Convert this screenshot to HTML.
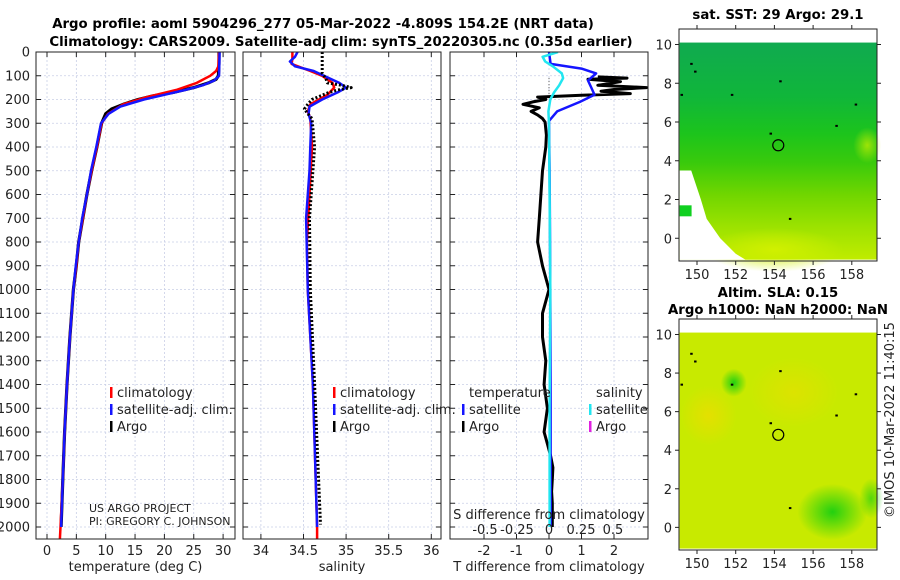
<!DOCTYPE html>
<html><head><meta charset="utf-8"><style>
body{margin:0;background:#fff;}
svg{display:block;font-family:"DejaVu Sans","Liberation Sans",sans-serif;}
.t{font-size:13px;fill:#222;}
.b{font-weight:bold;font-size:13.3px;fill:#000;}
</style></head><body>
<svg id="s" width="900" height="580" viewBox="0 0 900 580">
<defs>
<linearGradient id="sstg" x1="0" y1="0" x2="0" y2="1">
<stop offset="0" stop-color="#10aa50"/><stop offset="0.25" stop-color="#10b63a"/><stop offset="0.42" stop-color="#1cc41c"/><stop offset="0.55" stop-color="#38ca0c"/><stop offset="0.7" stop-color="#70d600"/><stop offset="0.85" stop-color="#9ce200"/><stop offset="1" stop-color="#c0ec00"/>
</linearGradient>
<radialGradient id="slab1" cx="0.5" cy="0.5" r="0.5"><stop offset="0" stop-color="#22d010"/><stop offset="1" stop-color="#22d010" stop-opacity="0"/></radialGradient>
<radialGradient id="slay" cx="0.5" cy="0.5" r="0.5"><stop offset="0" stop-color="#f0dc00"/><stop offset="1" stop-color="#f0dc00" stop-opacity="0"/></radialGradient>
<radialGradient id="ssty" cx="0.5" cy="0.5" r="0.5"><stop offset="0" stop-color="#d0f000"/><stop offset="1" stop-color="#d0f000" stop-opacity="0"/></radialGradient>
</defs>
<g id="root"></g>
</svg>
<script>
// ---------- data ----------
const depthTicks=[0,100,200,300,400,500,600,700,800,900,1000,1100,1200,1300,1400,1500,1600,1700,1800,1900,2000];
const tempTicks=[0,5,10,15,20,25,30];
const salTicks=[34,34.5,35,35.5,36];
const salTickLabels=["34","34.5","35","35.5","36"];
const tdTicks=[-2,-1,0,1,2];
const sdTicks=[-0.5,-0.25,0,0.25,0.5];
const sdTickLabels=["-0.5","-0.25","0","0.25","0.5"];
const lonTicks=[150,152,154,156,158];
const latTicks=[0,2,4,6,8,10];

const tDepthArgo=[0,50,100,115,130,150,170,185,200,220,240,260,300,400,500,600,700,800,900,1000,1200,1400,1600,1800,2000];
const tArgo=[29.3,29.3,29.2,28.8,27.5,25,21.5,18,15.5,13,11,10,9.3,8.5,7.6,6.8,6.1,5.4,5.0,4.5,3.9,3.4,3.0,2.7,2.4];
const tDepthClim=[0,60,80,100,130,160,190,220,260,300,400,500,600,700,800,900,1000,1200,1400,1600,1800,2000,2050];
const tClim=[29.3,29.2,28.8,27.8,25.5,22,17,13,10.4,9.3,8.5,7.6,6.8,6.1,5.4,5.0,4.5,3.9,3.4,3.0,2.7,2.3,2.2];
const tDepthSat=[0,100,120,140,160,180,200,230,260,300,400,500,600,700,800,900,1000,1200,1400,1600,1800,2000];
const tSat=[29.4,29.3,28.5,26.5,23.5,20,16.5,12.5,10.5,9.2,8.4,7.5,6.8,6.0,5.4,4.9,4.5,3.9,3.4,3.0,2.7,2.4];

const sDepthClim=[0,30,50,80,100,130,150,180,220,250,280,400,600,800,1000,1400,2000,2050];
const sClim=[34.37,34.37,34.36,34.58,34.72,34.84,34.86,34.78,34.58,34.55,34.58,34.6,34.57,34.54,34.55,34.61,34.66,34.66];
const sDepthSat=[0,20,40,60,80,100,130,150,170,200,230,260,300,400,500,700,1000,1400,2000];
const sSat=[34.43,34.40,34.34,34.40,34.62,34.74,34.92,35.0,34.9,34.72,34.57,34.56,34.59,34.58,34.57,34.53,34.55,34.61,34.66];
const sDepthArgo=[0,90,110,130,140,150,160,170,185,200,220,240,260,280,400,700,1000,1400,1990];
const sArgo=[34.72,34.72,34.76,34.78,34.95,35.06,34.9,34.8,34.7,34.6,34.55,34.51,34.55,34.6,34.63,34.57,34.58,34.63,34.7];

const dDepthSatT=[0,50,70,90,120,150,180,210,250,290,500,1000,1500,2000];
const dSatT=[0,0.05,1.0,1.45,1.2,1.3,1.4,0.95,0.25,0,0.02,0.04,0.05,0.05];
const dDepthArgoT=[105,110,115,125,140,150,158,165,175,182,190,200,210,220,235,250,265,280,295,350,400,500,600,700,800,900,1000,1100,1200,1300,1400,1500,1600,1650,1700,1750,1800,1850,1900,2000];
const dArgoT=[1.5,2.4,1.2,2.2,1.5,3.0,2.0,1.6,2.5,1.0,-0.35,-0.1,-0.5,-0.8,-0.3,-0.55,-0.35,-0.2,-0.12,-0.08,-0.1,-0.2,-0.25,-0.3,-0.35,-0.2,0,-0.2,-0.2,-0.1,-0.15,-0.05,-0.15,-0.05,0.05,0.12,0.1,0.08,0.1,0.1];
const dDepthSatS=[0,20,40,60,90,110,140,170,200,250,300,600,1000,1500,2000];
const dSatS=[0.07,-0.05,-0.03,0.03,0.1,0.11,0.08,0.04,0.01,-0.005,0,0.005,0.01,0.005,0.005];

const sstDotsLon=[149.7,149.9,151.8,154.3,153.8,157.2,158.2,149.2,154.8];
const sstDotsLat=[9.0,8.6,7.4,8.1,5.4,5.8,6.9,7.4,1.0];
const argoLon=[154.2];
const argoLat=[4.8];

// ---------- helpers ----------
const NS="http://www.w3.org/2000/svg";
const root=document.getElementById('root');
function mk(tag,attrs,parent){const e=document.createElementNS(NS,tag);for(const k in attrs)e.setAttribute(k,attrs[k]);(parent||root).appendChild(e);return e;}
function txt(x,y,s,cls,anchor,parent){const e=mk('text',{x:x,y:y,class:cls||'t','text-anchor':anchor||'start'},parent);e.textContent=s;return e;}
const yD=d=>52+d*0.2375;
const P1={l:36,r:235,x:v=>47+v*5.87};
const P2={l:243,r:441,x:v=>303.5+(v-34.5)*85.2};
const P3={l:450,r:648,x:v=>549+v*32.5};
const xS3=v=>549+v*128;
const TOP=52,BOT=539;

function panel(P,name,ticks,labels,title){
  const g=mk('g',{});
  
  
  mk('rect',{x:P.l,y:TOP,width:P.r-P.l,height:BOT-TOP,fill:'#fff'},g);
  depthTicks.forEach(d=>{mk('line',{x1:P.l,x2:P.r,y1:yD(d),y2:yD(d),stroke:'#c9cfe6','stroke-width':0.8,'stroke-dasharray':'2,2'},g);
    mk('line',{x1:P.l,x2:P.l+5,y1:yD(d),y2:yD(d),stroke:'#222'},g);mk('line',{x1:P.r-5,x2:P.r,y1:yD(d),y2:yD(d),stroke:'#222'},g);});
  ticks.forEach((t,i)=>{const x=P.x(t);mk('line',{x1:x,x2:x,y1:TOP,y2:BOT,stroke:'#c9cfe6','stroke-width':0.8,'stroke-dasharray':'2,2'},g);
    mk('line',{x1:x,x2:x,y1:BOT-5,y2:BOT,stroke:'#222'},g);mk('line',{x1:x,x2:x,y1:TOP,y2:TOP+5,stroke:'#222'},g);
    const l=txt(x,555,labels[i],'t','middle',g);});
  const tt=txt((P.l+P.r)/2,571,title,'t','middle',g);
  
  
  return g;
}
function frame(P,g){mk('rect',{x:P.l,y:TOP,width:P.r-P.l,height:BOT-TOP,fill:'none',stroke:'#222','stroke-width':1},g);}
function line(g,xf,vals,depths,color,w,name,dash){
  const pts=vals.map((v,i)=>xf(v).toFixed(1)+','+yD(depths[i]).toFixed(1)).join(' ');
  const e=mk('polyline',{points:pts,fill:'none',stroke:color,'stroke-width':w,'stroke-linejoin':'round'},g);
  if(dash)e.setAttribute('stroke-dasharray',dash);
  
  
}
function clip(P,id){const c=mk('clipPath',{id:id});mk('rect',{x:P.l,y:TOP,width:P.r-P.l,height:BOT-TOP},c);}
clip(P1,'c1');clip(P2,'c2');clip(P3,'c3');

// titles
const t1=txt(323,28,'Argo profile: aoml 5904296_277 05-Mar-2022 -4.809S 154.2E (NRT data)','b','middle');


const t2=txt(341,46,'Climatology: CARS2009. Satellite-adj clim: synTS_20220305.nc (0.35d earlier)','b','middle');



// depth labels
depthTicks.forEach(d=>{const l=txt(30,yD(d)+4.5,String(d),'t','end');});

// panel 1
const g1=panel(P1,'temperature-panel',tempTicks,tempTicks.map(String),'temperature (deg C)');
const l1=mk('g',{'clip-path':'url(#c1)'},g1);
line(l1,P1.x,tArgo,tDepthArgo,'#000',3.2,'argo-temperature-line');
line(l1,P1.x,tClim,tDepthClim,'#f00',2.5,'climatology-temperature-line');
line(l1,P1.x,tSat,tDepthSat,'#1515ff',2.5,'satellite-temperature-line');
frame(P1,g1);
// panel 2
const g2=panel(P2,'salinity-panel',salTicks,salTickLabels,'salinity');
const l2=mk('g',{'clip-path':'url(#c2)'},g2);
line(l2,P2.x,sClim,sDepthClim,'#f00',2.5,'climatology-salinity-line');
line(l2,P2.x,sSat,sDepthSat,'#1515ff',2.5,'satellite-salinity-line');
line(l2,P2.x,sArgo,sDepthArgo,'#000',3,'argo-salinity-line','2,2');
frame(P2,g2);
// panel 3
const g3=panel(P3,'difference-panel',tdTicks,tdTicks.map(String),'T difference from climatology');
const l3=mk('g',{'clip-path':'url(#c3)'},g3);
mk('line',{x1:549,x2:549,y1:yD(110),y2:yD(200),stroke:'#555','stroke-width':1,'stroke-dasharray':'1,2'},l3);
line(l3,P3.x,dArgoT,dDepthArgoT,'#000',3,'argo-t-difference-line');
line(l3,P3.x,dSatT,dDepthSatT,'#1515ff',2.5,'satellite-t-difference-line');
line(l3,xS3,dSatS,dDepthSatS,'#22e6f0',2.5,'satellite-s-difference-line');
frame(P3,g3);
// S-diff axis labels
const sdt=txt(549,519,'S difference from climatology','t','middle',g3);


sdTicks.forEach((v,i)=>{const l=txt(xS3(v),534,sdTickLabels[i],'t','middle',g3);});

// legends
function legend(x,y,color,label,name){const g=mk('g',{});
  if(color)mk('rect',{x:x,y:y-10,width:2.5,height:11,fill:color},g);txt(x+7,y,label,'t','start',g);}
legend(110,397,'#f00','climatology','legend-climatology');
legend(110,414,'#1515ff','satellite-adj. clim.','legend-satellite-adj');
legend(110,431,'#000','Argo','legend-argo');
legend(333,397,'#f00','climatology','legend-climatology-sal');
legend(333,414,'#1515ff','satellite-adj. clim.','legend-satellite-adj-sal');
legend(333,431,'#000','Argo','legend-argo-sal');
legend(462,397,null,'temperature','legend-temperature-header');
legend(462,414,'#1515ff','satellite','legend-t-satellite');
legend(462,431,'#000','Argo','legend-t-argo');
legend(589,397,null,'salinity','legend-salinity-header');
legend(589,414,'#22e6f0','satellite','legend-s-satellite');
legend(589,431,'#e020e0','Argo','legend-s-argo');
const c1=txt(89,512,'US ARGO PROJECT','t','start');c1.setAttribute('style','font-size:11px');


const c2=txt(89,525,'PI: GREGORY C. JOHNSON','t','start');c2.setAttribute('style','font-size:11px');



// ---------- maps ----------
function map(top,bot,name,fillFn){
  const M={l:679,r:877,t:top,b:bot};
  const y10=top+15.5, y0=top+(bot-top)*0.902;
  M.x=v=>697+(v-150)*19.35;
  M.y=v=>y0+(y10-y0)*v/10;
  const g=mk('g',{});
  mk('rect',{x:M.l,y:top,width:M.r-M.l,height:bot-top,fill:'#fff'},g);
  fillFn(g,M);
  mk('rect',{x:M.l,y:top,width:M.r-M.l,height:bot-top,fill:'none',stroke:'#222'},g);
  latTicks.forEach(v=>{const y=M.y(v);mk('line',{x1:M.l-4,x2:M.l,y1:y,y2:y,stroke:'#222'},g);mk('line',{x1:M.r,x2:M.r+4,y1:y,y2:y,stroke:'#222'},g);
    const l=txt(672,y+5,String(v),'t','end',g);});
  lonTicks.forEach(v=>{const x=M.x(v);mk('line',{x1:x,x2:x,y1:bot,y2:bot+4,stroke:'#222'},g);mk('line',{x1:x,x2:x,y1:top-4,y2:top,stroke:'#222'},g);
    const l=txt(x,bot+18,String(v),'t','middle',g);});
  sstDotsLon.forEach((v,i)=>{const d=mk('rect',{x:M.x(v)-1,y:M.y(sstDotsLat[i])-1,width:2.5,height:2,fill:'#000'},g);});
  argoLon.forEach((v,i)=>{const c=mk('circle',{cx:M.x(v),cy:M.y(argoLat[i]),r:5.5,fill:'none',stroke:'#000','stroke-width':1.2},g);});
  return M;
}
map(29,261,'sst-map',(g,M)=>{
  const x0=M.x(149.1),x1=M.r,y0=M.y(10.1),y1=M.y(-1.1);
  mk('rect',{x:x0,y:y0,width:x1-x0,height:y1-y0,fill:'url(#sstg)'},g);
  mk('ellipse',{cx:M.x(154),cy:M.y(-0.6),rx:70,ry:22,fill:'url(#ssty)'},g);
  mk('ellipse',{cx:M.x(158.8),cy:M.y(4.8),rx:14,ry:18,fill:'url(#ssty)',opacity:0.7},g);
  mk('polygon',{points:[[149.1,3.5],[149.7,3.5],[150.2,2],[150.5,1],[151.2,0],[152,-0.8],[152.5,-1.1],[149.1,-1.1]].map(p=>M.x(p[0])+','+M.y(p[1])).join(' '),fill:'#fff'},g);
  mk('rect',{x:M.x(149.1),y:M.y(1.7),width:12,height:11,fill:'#10d020'},g);
});
map(319,550,'sla-map',(g,M)=>{
  const x0=M.x(149.1),x1=M.r,y0=M.y(10.1),y1=M.y(-1.1);
  mk('rect',{x:x0,y:y0,width:x1-x0,height:y1-y0,fill:'#c8ea00'},g);
  mk('ellipse',{cx:M.x(150.6),cy:M.y(5.8),rx:28,ry:30,fill:'url(#slay)',opacity:0.7},g);
  mk('ellipse',{cx:M.x(155),cy:M.y(7),rx:45,ry:35,fill:'url(#slay)',opacity:0.5},g);
  mk('ellipse',{cx:M.x(157),cy:M.y(0.8),rx:35,ry:28,fill:'url(#slab1)'},g);
  mk('ellipse',{cx:M.x(151.9),cy:M.y(7.5),rx:13,ry:14,fill:'url(#slab1)'},g);
  mk('ellipse',{cx:M.x(159),cy:M.y(1.5),rx:12,ry:20,fill:'url(#slab1)',opacity:0.7},g);
});
[[778,19,'sat. SST: 29 Argo: 29.1','sst-map-title'],[778,297,'Altim. SLA: 0.15','sla-map-title'],[778,314,'Argo h1000: NaN h2000: NaN','sla-map-subtitle']].forEach(a=>{
  const e=txt(a[0],a[1],a[2],'b','middle');});
const ts=txt(0,0,'©IMOS 10-Mar-2022 11:40:15','t','middle');
ts.setAttribute('transform','translate(894,420) rotate(-90)');


</script>
</body></html>
